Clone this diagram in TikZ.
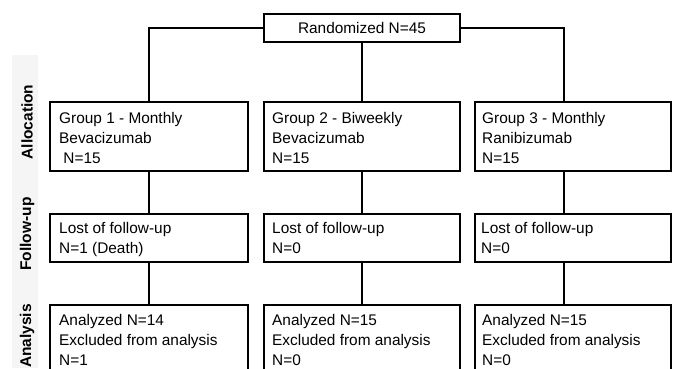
\documentclass[tikz,border=0pt]{standalone}
\usepackage{fontspec}
\setmainfont{Liberation Sans}
\begin{document}
\begin{tikzpicture}[x=1pt,y=-1pt]
\tikzset{
  box/.style={draw=black, line width=2pt, anchor=north west, inner sep=0pt, outer sep=0pt},
  txt/.style={anchor=north west, inner sep=0pt, align=left, font=\fontsize{15.4}{20}\selectfont},
  side/.style={rotate=90, inner sep=0pt, font=\fontsize{15.5}{18}\selectfont\bfseries},
  conn/.style={draw=black, line width=2.4pt}}
\clip (0,0) rectangle (674,368);
\fill[white] (0,0) rectangle (674,368);
\fill[black!4] (12,55) rectangle (38,368);
% side labels
\node[side] (lalloc) at (27,122) {Allocation};
\node[side] (lfollow) at (27,234) {Follow-up};
\node[side] (lanal) at (27,336) {Analysis};
% boxes
\node[box, minimum width=196pt, minimum height=28pt] (top) at (264,14) {};
\node[box, minimum width=198pt, minimum height=69pt] (g1) at (50,102) {};
\node[box, minimum width=196pt, minimum height=69pt] (g2) at (264,102) {};
\node[box, minimum width=196pt, minimum height=69pt] (g3) at (475,102) {};
\node[box, minimum width=198pt, minimum height=48pt] (f1) at (50,214) {};
\node[box, minimum width=196pt, minimum height=48pt] (f2) at (264,214) {};
\node[box, minimum width=196pt, minimum height=48pt] (f3) at (475,214) {};
\node[box, minimum width=198pt, minimum height=90pt] (a1) at (50,305) {};
\node[box, minimum width=196pt, minimum height=90pt] (a2) at (264,305) {};
\node[box, minimum width=196pt, minimum height=90pt] (a3) at (475,305) {};
% texts
\node[font=\fontsize{15.4}{20}\selectfont, inner sep=0pt] (ttop) at (top.center) {Randomized N=45};
\node[txt] (tg1) at (59,112) {Group 1 - Monthly\\Bevacizumab\\\ N=15};
\node[txt] (tg2) at (272,112) {Group 2 - Biweekly\\Bevacizumab\\N=15};
\node[txt] (tg3) at (482,112) {Group 3 - Monthly\\Ranibizumab\\N=15};
\node[txt] (tf1) at (59,222) {Lost of follow-up\\N=1 (Death)};
\node[txt] (tf2) at (272,222) {Lost of follow-up\\N=0};
\node[txt] (tf3) at (481,222) {Lost of follow-up\\N=0};
\node[txt] (ta1) at (59,314) {Analyzed N=14\\Excluded from analysis\\N=1};
\node[txt] (ta2) at (272,314) {Analyzed N=15\\Excluded from analysis\\N=0};
\node[txt] (ta3) at (482,314) {Analyzed N=15\\Excluded from analysis\\N=0};
% connectors
\path[conn] (top.west) -| (g1.north);
\path[conn] (top.south) -- (g2.north);
\path[conn] (top.east) -| ([xshift=89pt]g3.north west);
\path[conn] (g1.south) -- (f1.north);
\path[conn] (g2.south) -- (f2.north);
\path[conn] ([xshift=89pt]g3.south west) -- ([xshift=89pt]f3.north west);
\path[conn] (f1.south) -- (a1.north);
\path[conn] (f2.south) -- (a2.north);
\path[conn] ([xshift=89pt]f3.south west) -- ([xshift=89pt]a3.north west);
\end{tikzpicture}
\end{document}
